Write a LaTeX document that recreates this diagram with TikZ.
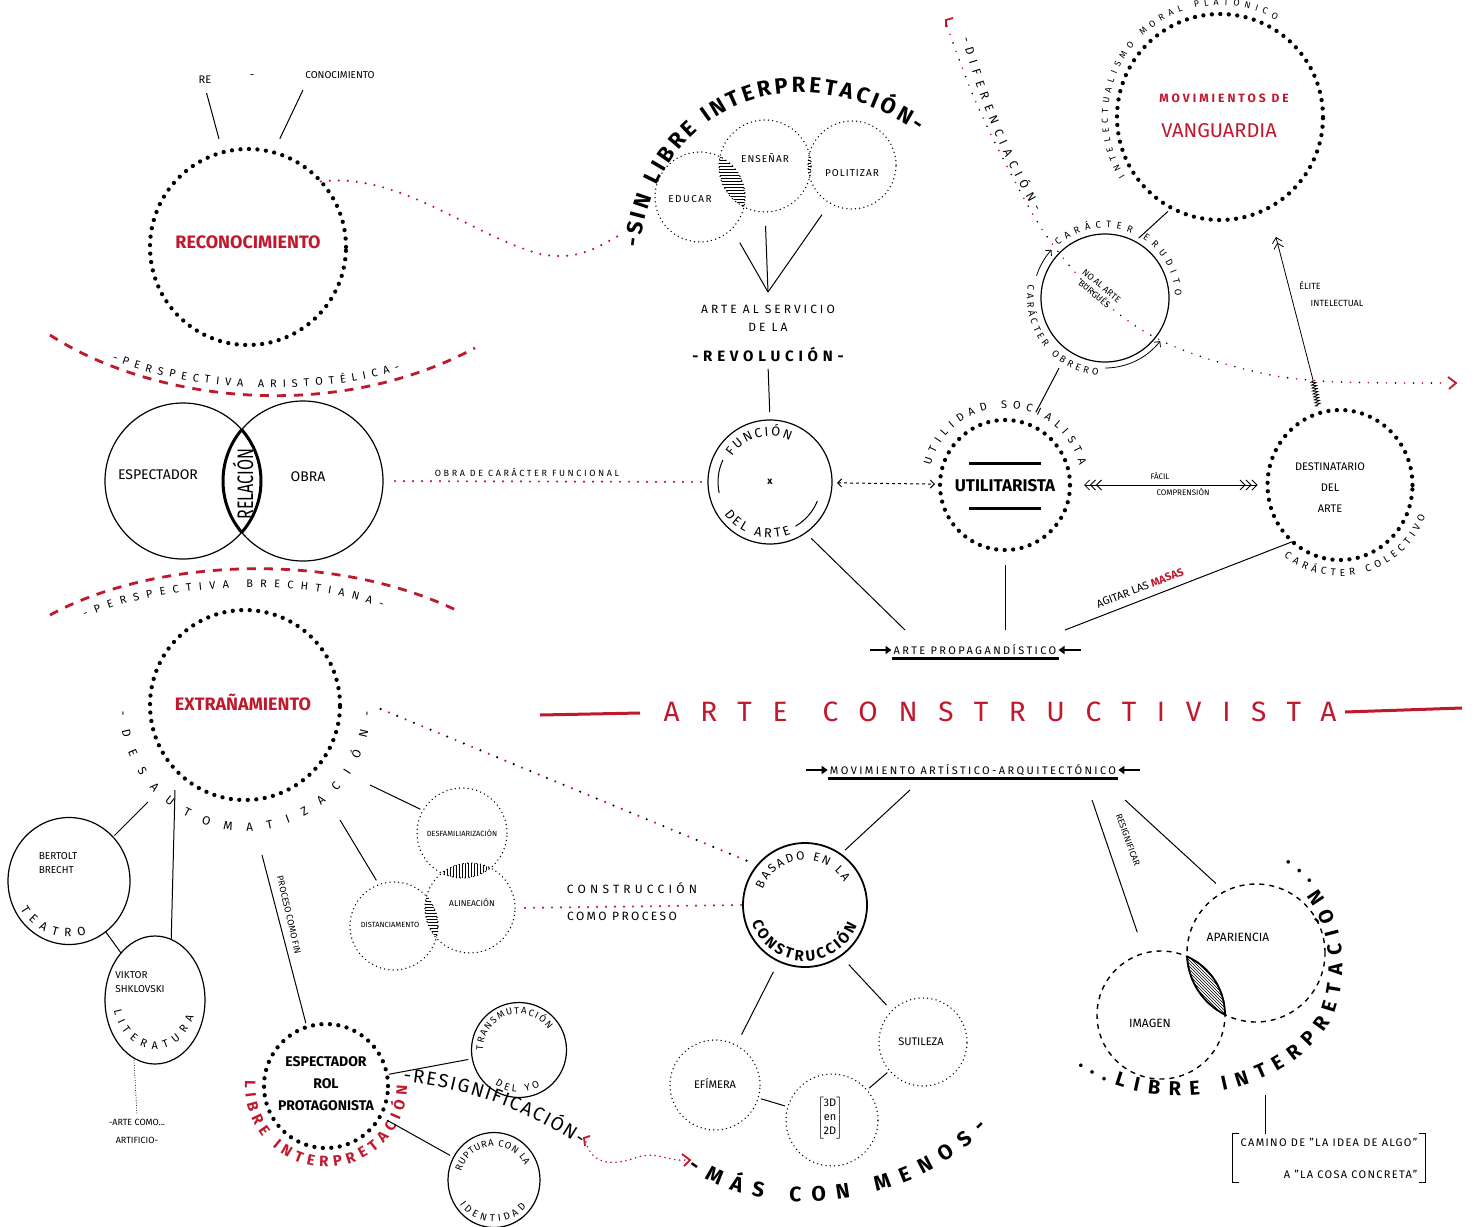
\documentclass[tikz,border=0pt]{standalone}
\usepackage{fontspec}
\usepackage{graphicx}
\setmainfont{Fira Sans}
\usetikzlibrary{decorations.text,decorations.pathmorphing,patterns,arrows.meta,calc,shapes.geometric}
\definecolor{cred}{RGB}{192,24,44}
\newcommand{\myfs}[2]{\fontsize{#1}{#2}\selectfont}
\newcommand{\myls}[1]{\addfontfeatures{LetterSpace=#1}}
\tikzset{
  bigdots/.style={draw=black, line width=4.3pt, dash pattern=on 0pt off 8.5pt, line cap=round},
  smalldots/.style={draw=black, line width=1.5pt, dash pattern=on 0pt off 4.3pt, line cap=round},
  solidc/.style={draw=black, line width=1.2pt},
  dashc/.style={draw=black, line width=1.4pt, dash pattern=on 5pt off 5pt},
  rdots/.style={draw=cred, line width=2.4pt, dash pattern=on 0pt off 9pt, line cap=round},
  kdots2/.style={draw=black, line width=2.4pt, dash pattern=on 0pt off 18pt, line cap=round},
  rdots2/.style={draw=cred, line width=2.4pt, dash pattern=on 0pt off 18pt, dash phase=9pt, line cap=round},
  rdash/.style={draw=cred, line width=2.8pt, dash pattern=on 9pt off 8pt},
  cc/.style={circle, inner sep=0pt, outer sep=0pt, minimum size=#1},
  ee/.style 2 args={ellipse, inner sep=0pt, outer sep=0pt, minimum width=#1, minimum height=#2},
  conn/.style={line width=1pt},
  arctxt/.style={decorate, decoration={text along path, text={#1}, text align={fit to path}}},
  lbl/.style={font=\myfs{#1}{#1}},
  thickarrow/.style={line width=2.4pt, -{Triangle[length=6pt,width=8pt]}},
}
\newcommand{\arcT}[6]{\path[#5, arctxt={#6}] ($(#1)+(#2:#4)$) arc[start angle=#2, end angle=#3, radius=#4];}
\begin{document}
\begin{tikzpicture}[x=1pt,y=-1pt]
\useasboundingbox (0,0) rectangle (1479,1226);
\fill[white] (0,0) rectangle (1479,1226);

% ---------------- nodes (circles) ----------------
\node[cc=196, bigdots] (reco) at (248,247) {};
\node[cc=156, solidc] (venL) at (183,481) {};
\node[cc=160, solidc] (venR) at (303,481) {};
\node[cc=190, bigdots] (extra) at (245,705) {};
\node[ee={122}{127}, solidc] (brecht) at (69,881) {};
\node[ee={100}{128}, solidc] (viktor) at (155,1000) {};
\node[cc=124, bigdots] (espect) at (326,1086) {};
\node[cc=95, solidc] (transm) at (519,1050) {};
\node[ee={92}{95}, solidc] (ruptura) at (494,1180) {};
\node[cc=90, smalldots] (desp) at (462,833) {};
\node[cc=88, smalldots] (dist) at (394,926) {};
\node[cc=90, smalldots] (alin) at (470,908) {};
\node[cc=124, draw, line width=1.8pt] (basado) at (805,905) {};
\node[cc=90, smalldots] (efimera) at (715,1085) {};
\node[cc=88, smalldots] (sutil) at (923,1042) {};
\node[cc=92, smalldots] (tresd) at (832,1120) {};
\node[cc=128, dashc] (imagen) at (1161,1015) {};
\node[cc=138, dashc] (apar) at (1256,953) {};
\node[cc=124, solidc] (funcion) at (770,482) {};
\node[cc=130, bigdots] (utilit) at (1005,485) {};
\node[ee={145}{150}, bigdots] (destin) at (1340,485) {};
\node[cc=128, solidc] (noal) at (1105,298) {};
\node[cc=206, bigdots] (vang) at (1220,117) {};
\node[cc=90, smalldots] (educar) at (700,197) {};
\node[cc=92, smalldots] (ensenar) at (765,166) {};
\node[cc=88, smalldots] (politizar) at (852,165) {};

% ---------------- hatched overlaps ----------------
\begin{scope}\clip (700,197) circle (45); \fill[pattern=horizontal lines] (765,166) circle (46);\end{scope}
\begin{scope}\clip (765,166) circle (46); \fill[pattern=horizontal lines] (852,165) circle (44);\end{scope}
\begin{scope}\clip (462,833) circle (45); \fill[pattern=vertical lines] (470,908) circle (45);\end{scope}
\begin{scope}\clip (394,926) circle (44); \fill[pattern=horizontal lines] (470,908) circle (45);\end{scope}
\begin{scope}\clip (1161,1015) circle (64); \fill[pattern=north west lines] (1256,953) circle (69); \draw[line width=1.8pt] (1256,953) circle (69);\end{scope}
\begin{scope}\clip (1256,953) circle (69); \draw[line width=1.8pt] (1161,1015) circle (64);\end{scope}
\begin{scope}\clip (183,481) circle (78); \draw[line width=3pt] (303,481) circle (80);\end{scope}
\begin{scope}\clip (303,481) circle (80); \draw[line width=3pt] (183,481) circle (78);\end{scope}

% ---------------- RECONOCIMIENTO ----------------
\node[text=cred, font=\myfs{18}{18}\bfseries] at (248,242) {RECONOCIMIENTO};
\node[lbl=11] (re) at (205,80) {RE};
\node[lbl=11] (rdash) at (252,77) {-};
\node[lbl=10] (cono) at (340,75) {CONOCIMIENTO};
\coordinate (c1) at (303,90);
\draw[conn, shorten <=6pt, shorten >=14pt] (re.south) -- (reco.105);
\draw[conn, shorten >=15pt] (c1) -- (reco.75);
\draw[rdots] (reco.42) .. controls (400,172) and (470,235) .. (540,254) .. controls (580,262) and (600,245) .. (622,234);

% ---------------- SIN LIBRE INTERPRETACION ----------------
\path[arctxt={|\myfs{22}{22}\bfseries|-SIN LIBRE INTERPRETACIÓN-}] (640,248) .. controls (655,110) and (790,45) .. (918,132);
\node[font=\myfs{10}{10}\myls{15}] at (690,199) {EDUCAR};
\node[font=\myfs{10}{10}\myls{10}] at (765,158) {ENSEÑAR};
\node[font=\myfs{10}{10}\myls{10}] at (852,173) {POLITIZAR};
\coordinate (conv) at (768,292);
\draw[conn, shorten >=16pt] (conv) -- (educar.-45);
\draw[conn, shorten >=14pt] (conv) -- (ensenar.south);
\draw[conn, shorten >=14pt] (conv) -- (politizar.-120);
\node[font=\myfs{12}{18}\myls{25}, align=center] (artes) at (768,318) {ARTE AL SERVICIO\\DE LA};
\node[font=\myfs{15}{15}\bfseries\myls{32}] (revol) at (768,354) {-REVOLUCIÓN-};
\draw[conn, shorten <=4pt, shorten >=8pt] (revol.south) -- (funcion.north);

% ---------------- FUNCION ----------------
\node[font=\myfs{10}{10}\bfseries] at (770,482) {x};
\arcT{770,482}{214}{296}{46}{}{|\myfs{13}{13}|FUNCIÓN}
\arcT{770,482}{145}{68}{56}{}{|\myfs{13}{13}|DEL ARTE}
\draw[conn] ($(770,482)+(168:52)$) arc[start angle=168, end angle=205, radius=52];
\draw[conn] ($(770,482)+(60:51)$) arc[start angle=60, end angle=22, radius=51];
\draw[conn, dashed, {Straight Barb[length=4pt]}-{Straight Barb[length=4pt]}, shorten <=5pt, shorten >=5pt] (funcion) -- (utilit);

% ---------------- UTILITARISTA ----------------
\node[font=\myfs{17}{17}\bfseries] (utilt) at (1005,486) {UTILITARISTA};
\draw[line width=3pt] ($(utilt)+(-36,-23)$) -- ++(72,0);
\draw[line width=3pt] ($(utilt)+(-36,22)$) -- ++(72,0);
\arcT{1005,485}{195}{345}{77}{}{|\myfs{11}{11}|UTILIDAD SOCIALISTA}
\draw[line width=0.8pt, {Straight Barb[length=5pt]Straight Barb[length=5pt]Straight Barb[length=5pt]}-{Straight Barb[length=5pt]Straight Barb[length=5pt]Straight Barb[length=5pt]}, shorten <=14pt, shorten >=10pt] (utilit) -- (destin);
\node[lbl=8] at (1160,476) {FÁCIL};
\node[lbl=8] at (1183,492) {COMPRENSIÓN};

% ---------------- DESTINATARIO ----------------
\node[font=\myfs{11}{21}, align=center] at (1330,488) {DESTINATARIO\\DEL\\ARTE};
\arcT{1340,485}{128}{20}{91}{}{|\myfs{10}{10}|CARÁCTER COLECTIVO}
\coordinate (eb) at (1313,380);
\draw[line width=0.8pt, decorate, decoration={zigzag, segment length=3pt, amplitude=2.5pt}] (1318,406) -- (eb);
\draw[line width=0.8pt, -{Straight Barb[length=5pt]Straight Barb[length=5pt]}, shorten >=30pt] (eb) -- (vang.-62);
\node[lbl=9] at (1310,285) {ÉLITE};
\node[lbl=9] at (1337,303) {INTELECTUAL};
\coordinate (agA) at (1065,630);
\draw[conn] (agA) -- (destin.-130);
\node[rotate=21, font=\myfs{11}{11}] at (1140,588) {AGITAR LAS \textcolor{cred}{\bfseries MASAS}};

% ---------------- ARTE PROPAGANDISTICO ----------------
\node[font=\myfs{11}{11}\myls{22}, inner sep=2pt] (propag) at (975,650) {ARTE PROPAGANDÍSTICO};
\draw[line width=2.6pt] ($(propag.south west)+(0,1)$) -- ($(propag.south east)+(0,1)$);
\draw[thickarrow] ($(propag.west)+(-22,0)$) -- (propag.west);
\draw[thickarrow] ($(propag.east)+(22,0)$) -- (propag.east);
\coordinate (pA) at (905,630);
\coordinate (pB) at (1005,630);
\draw[conn, shorten <=8pt] (funcion.-55) -- (pA);
\draw[conn, shorten <=15pt] (utilit.south) -- (pB);

% ---------------- ARTE CONSTRUCTIVISTA ----------------
\node[text=cred, font=\myfs{28}{28}\myls{74}, inner sep=2pt] (title) at (1000,712) {ARTE\hspace{35pt}CONSTRUCTIVISTA};
\draw[cred, line width=3pt] (540,715) -- (640,713);
\draw[cred, line width=3pt] (1345,712) -- (1462,708);

% ---------------- MOVIMIENTO ----------------
\node[font=\myfs{11}{11}\myls{22}, inner sep=2pt] (mov) at (973,770) {MOVIMIENTO ARTÍSTICO-ARQUITECTÓNICO};
\draw[line width=2.6pt] ($(mov.south west)+(0,1)$) -- ($(mov.south east)+(0,1)$);
\draw[thickarrow] ($(mov.west)+(-22,0)$) -- (mov.west);
\draw[thickarrow] ($(mov.east)+(22,0)$) -- (mov.east);
\coordinate (mA) at (910,790);
\draw[conn, shorten >=6pt] (mA) -- (basado.55);

% ---------------- BASADO EN LA CONSTRUCCION ----------------
\arcT{805,905}{200}{330}{45}{}{|\myfs{12}{12}|BASADO EN LA}
\arcT{805,905}{162}{22}{56}{}{|\myfs{15}{15}\bfseries|CONSTRUCCIÓN}
\node[lbl=11] at (715,1083) {EFÍMERA};
\node[lbl=11] at (921,1042) {SUTILEZA};
\node[font=\myfs{11}{14}] at (830,1118) {$\left[\begin{tabular}{@{}c@{}}3D\\en\\2D\end{tabular}\right]$};
\draw[conn, shorten <=12pt, shorten >=12pt] (basado.245) -- (efimera.62);
\draw[conn, shorten <=12pt, shorten >=8pt] (basado.-55) -- (sutil.135);
\draw[conn, shorten <=3pt, shorten >=3pt] (efimera) -- (tresd);
\draw[conn, shorten <=3pt, shorten >=3pt] (tresd) -- (sutil);
\path[arctxt={|\myfs{21}{21}\bfseries|-MÁS CON MENOS-}] (688,1168) .. controls (760,1222) and (905,1212) .. (988,1128);
\draw[cred, line width=1.8pt, dash pattern=on 0pt off 5pt, line cap=round] (586,1142) .. controls (592,1166) and (615,1165) .. (635,1158) .. controls (655,1150) and (670,1162) .. (686,1160);
\draw[cred, line width=1.8pt] (590,1136) -- (584,1138) -- (585,1146);
\draw[cred, line width=1.8pt] (682,1154) -- (690,1160) -- (684,1166);

% ---------------- ESPECTADOR ROL PROTAGONISTA ----------------
\node[font=\myfs{14}{22}\bfseries, align=center] at (326,1084) {ESPECTADOR\\ROL\\PROTAGONISTA};
\arcT{326,1086}{184}{0}{81}{}{|\color{cred}\myfs{15}{15}\bfseries|LIBRE INTERPRETACIÓN}
\path[arctxt={|\myfs{19}{19}|-RESIGNIFICACIÓN-}] (403,1082) .. controls (470,1088) and (530,1112) .. (580,1146);
\draw[conn, shorten <=2pt, shorten >=4pt] (espect) -- (transm);
\draw[conn, shorten <=8pt, shorten >=4pt] (espect) -- (ruptura);
\arcT{519,1050}{180}{325}{36}{}{|\myfs{9.5}{9.5}|TRANSMUTACIÓN}
\arcT{519,1050}{125}{60}{42}{}{|\myfs{10}{10}|DEL YO}
\arcT{494,1180}{195}{335}{34}{}{|\myfs{9.5}{9.5}|RUPTURA CON LA}
\arcT{494,1180}{145}{40}{42}{}{|\myfs{10}{10}|IDENTIDAD}

% ---------------- EXTRAÑAMIENTO ----------------
\node[text=cred, font=\myfs{18}{18}\bfseries] at (243,702) {EXTRAÑAMIENTO};
\arcT{245,705}{177}{3}{126}{}{|\myfs{12}{12}|-DESAUTOMATIZACIÓN-}
\node[font=\myfs{10}{14}, align=left] at (58,863) {BERTOLT\\BRECHT};
\arcT{69,881}{150}{72}{56}{}{|\myfs{12}{12}|TEATRO}
\node[font=\myfs{10}{14}, align=left] at (140,982) {VIKTOR\\SHKLOVSKI};
\path[arctxt={|\myfs{11}{11}|LITERATURA}] ($(155,1000)+(-41,10)$) arc[start angle=166, end angle=22, x radius=42, y radius=52];
\draw[conn, shorten <=42pt, shorten >=2pt] (extra) -- (brecht);
\coordinate (eV) at (175,790);
\draw[conn] (eV) -- (viktor.75);
\draw[conn] (brecht) -- (viktor);
\node[font=\myfs{9}{18}, align=center] (artec) at (137,1131) {-ARTE COMO...\\ARTIFICIO-};
\draw[line width=1pt, dash pattern=on 0pt off 2.5pt, line cap=round] (viktor.-110) -- (artec.north);
\coordinate (pf) at (262,855);
\draw[conn, shorten >=4pt] (pf) -- (espect.108);
\node[rotate=-77, font=\myfs{9}{9}] at (289,915) {PROCESO COMO FIN};
\node[font=\myfs{7.5}{7.5}] at (462,833) {DESFAMILIARIZACIÓN};
\node[font=\myfs{7.5}{7.5}] at (390,925) {DISTANCIAMENTO};
\node[font=\myfs{8.5}{8.5}] at (472,903) {ALINEACIÓN};
\coordinate (eD) at (370,785);
\draw[conn, shorten >=3pt] (eD) -- (desp.150);
\coordinate (eS) at (340,820);
\draw[conn, shorten >=5pt] (eS) -- (dist.110);
\draw[rdots, shorten <=10pt] (alin.east) -- (basado.west);
\node[font=\myfs{12}{12}\myls{35}] at (632,888) {CONSTRUCCIÓN};
\node[font=\myfs{12}{12}\myls{20}] at (622,916) {COMO PROCESO};
\draw[kdots2, shorten <=45pt, shorten >=6pt] (extra.8) -- (basado.140);
\draw[rdots2, shorten <=45pt, shorten >=6pt] (extra.8) -- (basado.140);

% ---------------- VENN ----------------
\node[lbl=14] at (158,475) {ESPECTADOR};
\node[lbl=14] at (308,477) {OBRA};
\node[rotate=90, font=\myfs{16}{16}] at (243,484) {\scalebox{1}[1.4]{RELACIÓN}};
\draw[rdash] (50,335) .. controls (150,400) and (330,425) .. (475,348);
\draw[rdash] (50,615) .. controls (150,560) and (330,548) .. (460,612);
\path[arctxt={|\myfs{11}{11}|-PERSPECTIVA ARISTOTÉLICA-}] (112,360) .. controls (190,392) and (320,397) .. (400,370);
\path[arctxt={|\myfs{11}{11}|-PERSPECTIVA BRECHTIANA-}] (85,618) .. controls (160,583) and (300,576) .. (382,608);
\draw[rdots, shorten <=12pt] (venR.east) -- (funcion.west);
\node[font=\myfs{9}{9}\myls{29}] at (527,472) {OBRA DE CARÁCTER FUNCIONAL};

% ---------------- VANGUARDIA ----------------
\node[text=cred, font=\myfs{12}{12}\bfseries\myls{25}] at (1224,98) {MOVIMIENTOS DE};
\node[text=cred, font=\myfs{20}{20}] at (1219,131) {VANGUARDIA};
\arcT{1220,117}{148}{300}{112}{}{|\myfs{9}{9}|INTELECTUALISMO MORAL PLATÓNICO}

% ---------------- NO AL ARTE BURGUES ----------------
\node[rotate=-40, font=\myfs{9}{11}, align=center] at (1098,290) {NO AL ARTE\\BURGUÉS};
\arcT{1105,298}{228}{358}{70}{}{|\myfs{9.5}{9.5}|CARÁCTER ERUDITO}
\arcT{1105,298}{190}{95}{78}{}{|\myfs{9.5}{9.5}|CARÁCTER OBRERO}
\draw[line width=0.8pt, -{Straight Barb[length=4pt]}] ($(1105,298)+(198:72)$) arc[start angle=198, end angle=222, radius=72];
\draw[line width=0.8pt, -{Straight Barb[length=4pt]}] ($(1105,298)+(90:70)$) arc[start angle=90, end angle=38, radius=70];
\draw[conn, shorten <=5pt, shorten >=5pt] (vang.242) -- (noal.62);
\draw[conn, shorten <=20pt, shorten >=14pt] (noal.235) -- (utilit.68);
\draw[kdots2, line width=1.8pt] plot[smooth, tension=0.6] coordinates {(947,26) (975,100) (1010,172) (1048,238) (1100,298) (1160,340) (1240,368) (1320,381) (1448,383)};
\draw[rdots2, line width=1.8pt] plot[smooth, tension=0.6] coordinates {(947,26) (975,100) (1010,172) (1048,238) (1100,298) (1160,340) (1240,368) (1320,381) (1448,383)};
\draw[cred, line width=1.8pt] (953,18) -- (946,20) -- (946,27);
\draw[cred, line width=1.8pt] (1448,377) -- (1456,383) -- (1449,389);
\path[arctxt={|\myfs{12}{12}|-DIFERENCIACIÓN-}] (962,38) .. controls (978,95) and (998,150) .. (1035,212);

% ---------------- IMAGEN / APARIENCIA ----------------
\node[lbl=12] at (1238,937) {APARIENCIA};
\node[lbl=12] at (1150,1023) {IMAGEN};
\coordinate (r1) at (1092,800);
\coordinate (r2) at (1125,800);
\draw[conn, shorten >=22pt] (r1) -- (imagen.105);
\draw[conn, shorten >=12pt] (r2) -- (apar.117);
\node[rotate=-70, font=\myfs{9}{9}] at (1128,840) {RESIGNIFICAR};
\path[arctxt={|\myfs{20}{20}\bfseries|...LIBRE INTERPRETACIÓN...}] (1078,1065) .. controls (1140,1115) and (1280,1105) .. (1332,1020) .. controls (1355,960) and (1340,895) .. (1288,860);
\node[font=\myfs{11}{32}\myls{12}, align=right, inner xsep=8pt, inner ysep=4pt] (camino) at (1329,1158) {CAMINO DE "LA IDEA DE ALGO"\\A "LA COSA CONCRETA"};
\draw[line width=1.2pt] ($(camino.north west)+(7,0)$) -- (camino.north west) -- (camino.south west) -- ++(7,0);
\draw[line width=1.2pt] ($(camino.north east)+(-7,0)$) -- (camino.north east) -- (camino.south east) -- ++(-7,0);
\coordinate (lb) at (1265,1095);
\draw[conn] (lb) -- (lb |- camino.north);
\end{tikzpicture}
\end{document}
